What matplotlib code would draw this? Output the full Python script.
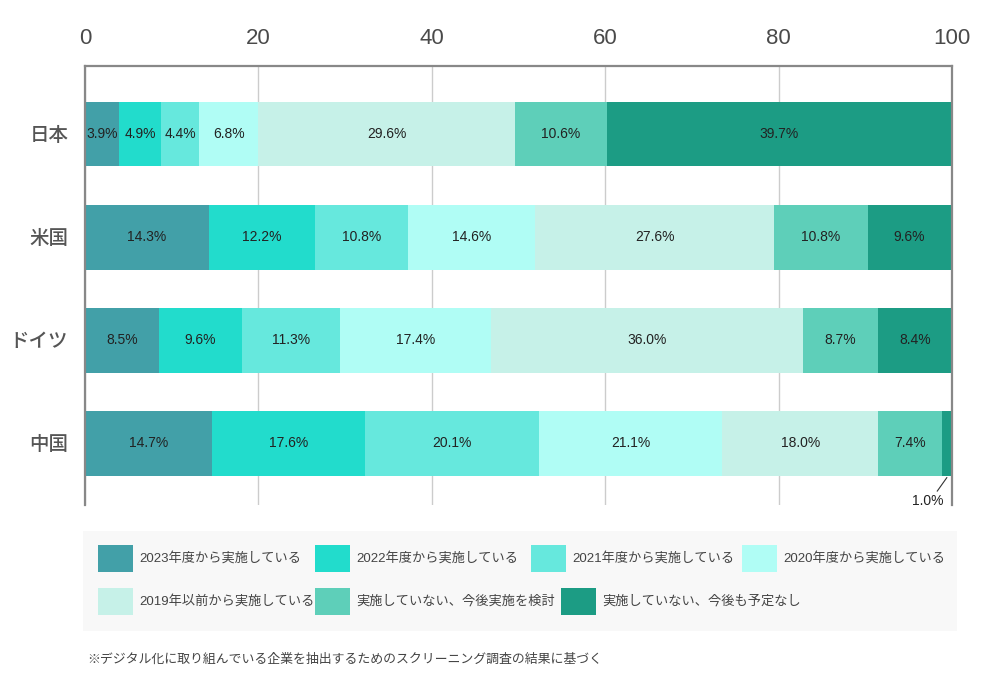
import matplotlib
matplotlib.use("Agg")
from matplotlib import pyplot as plt
from matplotlib.patches import Rectangle
import numpy as np

plt.rcParams['font.family'] = ['Liberation Sans', 'Noto Sans CJK JP', 'DejaVu Sans']

countries = ['日本', '米国', 'ドイツ', '中国']
series_names = ['2023年度から実施している', '2022年度から実施している', '2021年度から実施している',
                '2020年度から実施している', '2019年以前から実施している', '実施していない、今後実施を検討',
                '実施していない、今後も予定なし']
colors = ['#42a0a8', '#22dccc', '#66e8dd', '#b0fdf5', '#c6f1e8', '#5ecfb9', '#1c9c84']

s2023 = [3.9, 14.3, 8.5, 14.7]
s2022 = [4.9, 12.2, 9.6, 17.6]
s2021 = [4.4, 10.8, 11.3, 20.1]
s2020 = [6.8, 14.6, 17.4, 21.1]
s2019 = [29.6, 27.6, 36.0, 18.0]
s_consider = [10.6, 10.8, 8.7, 7.4]
s_none = [39.7, 9.6, 8.4, 1.0]
all_series = [s2023, s2022, s2021, s2020, s2019, s_consider, s_none]

fig = plt.figure(figsize=(10, 7), dpi=100)
ax = fig.add_axes([0.085, 0.2786, 0.867, 0.6271])

y = np.arange(len(countries))
bar_h = 0.63
left = np.zeros(len(countries))
for vals, col in zip(all_series, colors):
    vals = np.array(vals)
    ax.barh(y, vals, left=left, height=bar_h, color=col, zorder=2)
    for i, v in enumerate(vals):
        if v >= 2:
            ax.text(left[i] + v / 2, y[i], f'{v:.1f}%', ha='center', va='center',
                    fontsize=10, color='#222222', zorder=3)
    left += vals

# small segment label with leader line (中国, 1.0%)
i = 3
v = s_none[i]
xc = left[i] - v / 2
y0 = y[i] + bar_h / 2 + 0.02
ax.plot([xc, xc - 1.1], [y0, y0 + 0.13], color='#333333', lw=0.8, zorder=3, clip_on=False)
ax.text(xc - 2.2, y0 + 0.23, f'{v:.1f}%', ha='center', va='center',
        fontsize=10, color='#222222', zorder=3)

ax.set_xlim(0, 100)
ax.set_ylim(3.6, -0.66)
ax.set_xticks([0, 20, 40, 60, 80, 100])
ax.xaxis.tick_top()
ax.tick_params(axis='x', length=0, pad=12, labelsize=16, labelcolor='#4a4a4a')
ax.set_yticks(y)
ax.set_yticklabels(countries)
ax.tick_params(axis='y', length=0, pad=12, labelsize=14, labelcolor='#555555')
for lab in ax.get_yticklabels():
    lab.set_fontweight('medium')
ax.grid(axis='x', color='#cccccc', lw=1, zorder=0)
for s in ['top', 'left', 'right']:
    ax.spines[s].set_color('#888888')
    ax.spines[s].set_linewidth(1.6)
ax.spines['bottom'].set_visible(False)

# legend box
W, H = 1000, 700
def fx(px):
    return px / W
def fy(py):
    return 1 - py / H

fig.patches.append(Rectangle((fx(83), fy(631)), fx(957) - fx(83), fy(531) - fy(631),
                             transform=fig.transFigure, facecolor='#f8f8f8', edgecolor='none', zorder=0))
legend_pos = [(98, 558), (315, 558), (531, 558), (742, 558),
              (98, 601), (315, 601), (561, 601)]
for (px, py), name, col in zip(legend_pos, series_names, colors):
    fig.patches.append(Rectangle((fx(px), fy(py + 13.5)), fx(35), 27 / H,
                                 transform=fig.transFigure, facecolor=col, edgecolor='none', zorder=1))
    fig.text(fx(px + 41), fy(py), name, ha='left', va='center', fontsize=9.5, color='#444444')

fig.text(fx(87), fy(660), '※デジタル化に取り組んでいる企業を抽出するためのスクリーニング調査の結果に基づく',
         ha='left', va='center', fontsize=9.3, color='#444444')

fig.savefig('out.png', dpi=100)
